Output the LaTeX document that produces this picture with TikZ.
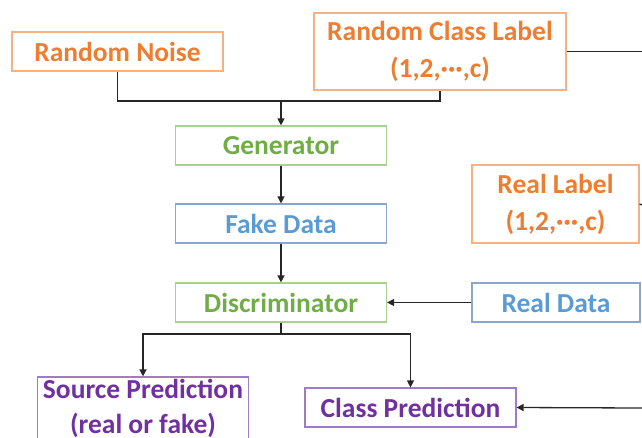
\documentclass[tikz,border=0pt]{standalone}
\usepackage{fontspec}
\setmainfont{Carlito}
\usetikzlibrary{arrows.meta}
\definecolor{orangetxt}{HTML}{ED7D31}
\definecolor{orangeline}{HTML}{F4B183}
\definecolor{greentxt}{HTML}{70AD47}
\definecolor{greenline}{HTML}{A9D18E}
\definecolor{bluetxt}{HTML}{5B9BD5}
\definecolor{blueline}{HTML}{8AA6CC}
\definecolor{purpletxt}{HTML}{7030A0}
\definecolor{purpleline}{HTML}{A07CC5}
\begin{document}
\begin{tikzpicture}[x=1pt,y=-1pt,
  box/.style={draw, line width=1.2pt, inner sep=0pt, align=center,
    minimum width=211pt, minimum height=39pt,
    font=\bfseries\fontsize{27.5}{37}\selectfont},
  obox/.style={box, draw=orangeline, text=orangetxt},
  gbox/.style={box, draw=greenline, text=greentxt},
  bbox/.style={box, draw=blueline, text=bluetxt},
  pbox/.style={box, draw=purpleline, text=purpletxt},
  link/.style={line width=1.3pt, draw=black!85},
  arr/.style={link, -{Triangle[length=7pt,width=7pt]}}
]
\path[use as bounding box, clip] (0,0) rectangle (642,437);

% generator side
\node[obox] (rn) at (117.5,51.5) {Random Noise};
\node[obox, minimum width=252pt, minimum height=77pt] (rcl) at (440,51.5)
  {Random Class Label\\(1,2,···,c)};
\node[gbox] (gen) at (281,145.5) {Generator};
\node[bbox] (fake) at (281,223.5) {Fake Data};
\node[gbox] (disc) at (281,302.5) {Discriminator};

% real side
\node[obox, minimum width=167pt, minimum height=78pt] (rlab) at (555.5,204)
  {Real Label\\(1,2,···,c)};
\node[bbox, minimum width=168pt] (rdat) at (556,302.5) {Real Data};

% outputs
\node[pbox, minimum height=62pt, font=\bfseries\fontsize{27.5}{35}\selectfont]
  (src) at (143,408) {Source Prediction\\(real or fake)};
\node[pbox] (cls) at (410.5,407.5) {Class Prediction};

% junctions and free ends
\coordinate (j1) at (281,101);
\coordinate (j2) at (281,334);
\coordinate (rclout) at (642,51.5);
\coordinate (rlabout) at (642,205);
\coordinate (clsin) at (642,408);

% connectors
\draw[link] (rn.south) |- (j1) -| (rcl.south);
\draw[arr] (j1) -- (gen.north);
\draw[link] (rcl.east) -- (rclout);
\draw[arr] (gen) -- (fake);
\draw[arr] (fake) -- (disc);
\draw[arr] (rdat) -- (disc);
\draw[link] (rlab.east) -- (rlabout);
\draw[link] (disc.south) -- (j2);
\draw[arr] (j2) -| (src.north);
\draw[arr] (j2) -| (cls.north);
\draw[arr] (clsin) -- (cls.east);
\end{tikzpicture}
\end{document}
